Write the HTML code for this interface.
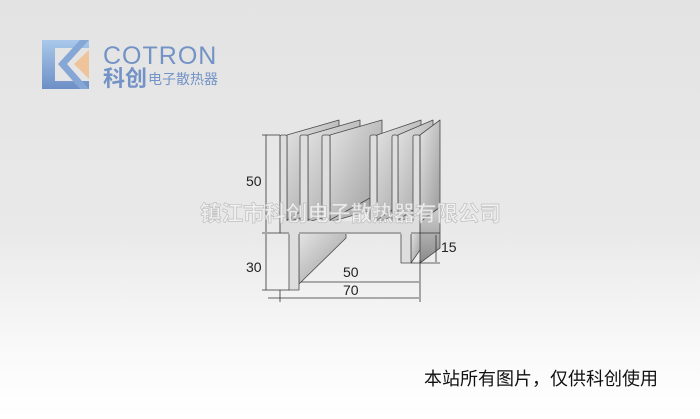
<!DOCTYPE html>
<html><head><meta charset="utf-8"><style>
html,body{margin:0;padding:0}
body{width:700px;height:419px;overflow:hidden;background:linear-gradient(#e3e3e3 0%,#e9e9e9 55%,#fafafa 85%,#fff 100%);font-family:"Liberation Sans","Noto Sans CJK SC",sans-serif}
</style></head><body>
<svg width="700" height="419" viewBox="0 0 700 419" xmlns="http://www.w3.org/2000/svg" style="position:absolute;left:0;top:0">
<defs>
<linearGradient id="sd" x1="0" y1="0" x2="1" y2="1"><stop offset="0" stop-color="#e4e4e4"/><stop offset="1" stop-color="#9a9a9a"/></linearGradient>
<linearGradient id="sd2" x1="0" y1="0" x2="0" y2="1"><stop offset="0" stop-color="#d0d0d0"/><stop offset="1" stop-color="#8a8a8a"/></linearGradient>
<linearGradient id="lb" x1="0" y1="0" x2="0" y2="1"><stop offset="0" stop-color="#a9c8ea"/><stop offset="1" stop-color="#6d8fc6"/></linearGradient>
</defs>
<!-- logo -->
<polygon points="42,40 89,40 89,48 55,48 55,81 89,81 89,89 42,89" fill="url(#lb)"/>
<polygon points="80,40 89,40 67,64 89,89 80,89 58,64" fill="#86a6d6"/>
<polygon points="89,50 74,64 89,79" fill="#f0c49a"/>
<text x="103" y="64" font-size="25" fill="#7393c6" font-family="Liberation Sans,sans-serif" letter-spacing="1">COTRON</text>
<text x="103" y="86" font-size="22" font-weight="bold" fill="#7393c6" font-family="Noto Sans CJK SC,sans-serif">科创</text>
<text x="148" y="84" font-size="14" fill="#7393c6" font-family="Noto Sans CJK SC,sans-serif">电子散热器</text>

<g stroke="#4a4a4a" stroke-width="0.8" stroke-linejoin="round">
<polygon points="420,222 440,207 440,248 420,263" fill="url(#sd2)"/>
<g id="fins">
<polygon points="287,135 339,120 339,207 287,222" fill="url(#sd)"/>
<rect x="280" y="135" width="7" height="90" rx="2" fill="#dedede"/>
<polygon points="308,135 360,120 360,207 308,222" fill="url(#sd)"/>
<rect x="300" y="135" width="8" height="90" rx="2" fill="#dedede"/>
<polygon points="330,135 382,120 382,207 330,222" fill="url(#sd)"/>
<rect x="322" y="135" width="8" height="90" rx="2" fill="#dedede"/>
<polygon points="377,135 421,120 421,207 377,222" fill="url(#sd)"/>
<rect x="370" y="135" width="7" height="90" rx="2" fill="#dedede"/>
<polygon points="398,135 433,120 433,207 398,222" fill="url(#sd)"/>
<rect x="392" y="135" width="6" height="90" rx="2" fill="#dedede"/>
<polygon points="420,135 440,120 440,207 420,222" fill="url(#sd)"/>
<rect x="413" y="135" width="7" height="90" rx="2" fill="#dedede"/>
</g>
<line x1="287" y1="220" x2="300" y2="212"/><line x1="308" y1="220" x2="322" y2="212"/>
<line x1="330" y1="220" x2="370" y2="198"/><line x1="377" y1="220" x2="392" y2="210"/>
<line x1="398" y1="220" x2="413" y2="210"/>
<rect x="280" y="222" width="140" height="11" fill="#dedede"/>
<polygon points="299,233 346,233 346,238 299,284" fill="url(#sd)"/>
<rect x="289" y="225" width="10" height="65" fill="#dedede"/>
<polygon points="411,233 420,233 420,250 411,263" fill="url(#sd)"/>
<rect x="401" y="225" width="10" height="38" fill="#dedede"/>
<rect x="281" y="221" width="138" height="13" fill="#dedede" stroke="none"/>
<line x1="280" y1="233" x2="289" y2="233"/><line x1="299" y1="233" x2="401" y2="233"/><line x1="411" y1="233" x2="420" y2="233"/>
<line x1="280" y1="135" x2="280" y2="233"/><line x1="420" y1="135" x2="420" y2="233"/>
</g>
<g stroke="#333" stroke-width="0.8" fill="#333">
<line x1="266" y1="135" x2="266" y2="232"/><line x1="262" y1="135" x2="280" y2="135"/>
<line x1="262" y1="233" x2="280" y2="233"/>
<line x1="266" y1="234" x2="266" y2="290"/><line x1="262" y1="290" x2="289" y2="290"/>
<line x1="268" y1="298" x2="419" y2="298"/><line x1="280" y1="290" x2="280" y2="302"/><line x1="420" y1="260" x2="420" y2="302"/>
<line x1="301" y1="282" x2="419" y2="282"/>
<line x1="436" y1="235" x2="436" y2="262"/><line x1="411" y1="263" x2="440" y2="263"/><line x1="420" y1="233" x2="440" y2="233"/>
</g>
<g font-size="14" fill="#222" font-family="Liberation Sans,sans-serif">
<text x="246" y="186">50</text><text x="246" y="272">30</text>
<text x="343" y="277">50</text><text x="343" y="295">70</text>
<text x="441" y="252">15</text>
</g>
<text x="200" y="221" font-size="21.5" font-weight="bold" fill="#f2f2f2" stroke="#b8b8b8" stroke-width="0.7" font-family="Noto Sans CJK SC,sans-serif" opacity="0.85">镇江市科创电子散热器有限公司</text>
<text x="424" y="385" font-size="18" fill="#111" font-family="Noto Sans CJK SC,sans-serif">本站所有图片，仅供科创使用</text>
</svg>
</body></html>
